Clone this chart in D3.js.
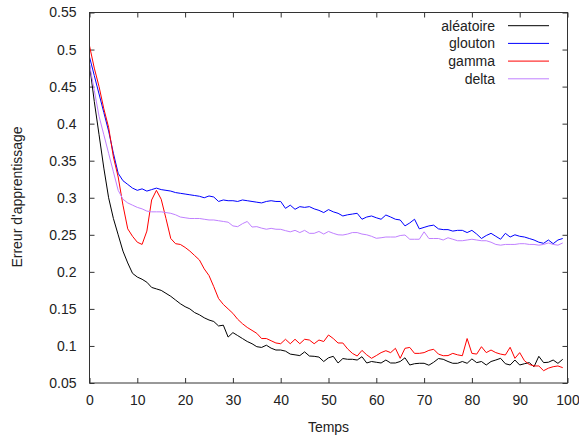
<!DOCTYPE html>
<html><head><meta charset="utf-8">
<script src="https://cdn.jsdelivr.net/npm/d3@7"></script>
<style>body{margin:0;background:#fff;} svg{display:block;font-family:"Liberation Sans",Arial,sans-serif;}</style>
</head><body><svg id="c" width="579" height="440"></svg>
<script>
const steps = d3.range(0, 100);
const seriesNames = ["aléatoire", "glouton", "gamma", "delta"];
const seriesColors = ["#000000", "#0000ff", "#ff0000", "#c080ff"];
const xTicks = [0,10,20,30,40,50,60,70,80,90,100];
const yTicks = [0.05,0.1,0.15,0.2,0.25,0.3,0.35,0.4,0.45,0.5,0.55];

const aleatoire = [0.480,0.430,0.385,0.340,0.300,0.272,0.250,0.228,0.212,0.198,
0.193,0.190,0.186,0.179,0.177,0.175,0.171,0.167,0.162,0.157,
0.153,0.150,0.145,0.142,0.138,0.135,0.133,0.127,0.128,0.112,
0.118,0.114,0.110,0.106,0.103,0.099,0.098,0.101,0.097,0.0945,
0.0945,0.093,0.089,0.088,0.087,0.092,0.0864,0.086,0.085,0.079,
0.084,0.086,0.077,0.083,0.082,0.082,0.081,0.0855,0.077,0.079,
0.078,0.077,0.081,0.077,0.077,0.079,0.084,0.0743,0.076,0.0766,
0.0766,0.074,0.078,0.083,0.082,0.079,0.0766,0.0766,0.079,0.0766,
0.0825,0.0775,0.079,0.0743,0.079,0.081,0.0833,0.076,0.0743,0.081,
0.0743,0.076,0.0775,0.072,0.086,0.0775,0.078,0.081,0.0765,0.082];

const glouton = [0.490,0.465,0.440,0.415,0.390,0.360,0.333,0.323,0.318,0.313,
0.310,0.312,0.309,0.311,0.313,0.311,0.310,0.309,0.307,0.306,
0.305,0.304,0.303,0.302,0.300,0.3024,0.301,0.295,0.297,0.296,
0.296,0.295,0.297,0.296,0.295,0.294,0.293,0.295,0.296,0.295,
0.295,0.2857,0.290,0.2844,0.288,0.287,0.288,0.285,0.283,0.280,
0.284,0.281,0.279,0.2754,0.277,0.278,0.279,0.271,0.274,0.2754,
0.273,0.271,0.2767,0.274,0.271,0.270,0.262,0.266,0.271,0.258,
0.260,0.262,0.263,0.258,0.257,0.257,0.255,0.256,0.256,0.253,
0.256,0.251,0.245,0.249,0.252,0.248,0.244,0.252,0.247,0.250,
0.248,0.247,0.245,0.243,0.240,0.2385,0.243,0.238,0.243,0.245];

const gamma = [0.505,0.475,0.450,0.420,0.395,0.355,0.328,0.290,0.258,0.248,
0.240,0.237,0.255,0.297,0.310,0.298,0.272,0.245,0.238,0.237,
0.233,0.228,0.222,0.216,0.204,0.195,0.180,0.164,0.156,0.150,
0.144,0.136,0.130,0.125,0.121,0.117,0.110,0.110,0.107,0.104,
0.103,0.109,0.103,0.109,0.103,0.109,0.108,0.103,0.108,0.106,
0.1148,0.110,0.104,0.104,0.096,0.090,0.0864,0.094,0.088,0.0833,
0.087,0.091,0.0936,0.091,0.0968,0.0833,0.0968,0.098,0.090,0.090,
0.091,0.094,0.0955,0.089,0.0868,0.087,0.090,0.088,0.0868,0.110,
0.090,0.089,0.099,0.091,0.0945,0.091,0.089,0.0878,0.0982,0.0833,
0.091,0.080,0.075,0.073,0.073,0.0666,0.070,0.072,0.073,0.0707];

const delta = [0.480,0.445,0.410,0.385,0.360,0.335,0.310,0.298,0.293,0.290,
0.287,0.285,0.282,0.281,0.281,0.281,0.280,0.279,0.277,0.274,
0.273,0.272,0.272,0.272,0.271,0.270,0.270,0.269,0.268,0.267,
0.262,0.261,0.265,0.268,0.2605,0.261,0.259,0.2575,0.2587,0.2575,
0.2574,0.2556,0.254,0.256,0.253,0.256,0.252,0.252,0.2545,0.251,
0.2545,0.252,0.250,0.2497,0.251,0.253,0.253,0.251,0.250,0.248,
0.2453,0.246,0.247,0.247,0.247,0.249,0.2497,0.244,0.244,0.244,
0.254,0.245,0.245,0.245,0.243,0.246,0.244,0.242,0.242,0.243,
0.244,0.243,0.242,0.242,0.240,0.237,0.236,0.237,0.237,0.237,
0.238,0.238,0.237,0.237,0.236,0.237,0.239,0.237,0.236,0.239];

const seriesData = [aleatoire, glouton, gamma, delta];

const svg = d3.select("#c");
const L = 89.5, R = 567.5, T = 12.5, B = 383;
const x = d3.scaleLinear().domain([0,100]).range([L,R]);
const y = d3.scaleLinear().domain([0.05,0.55]).range([B,T]);
const fs = 14, tk = 5, axisColor = "#333", textColor = "#222";

function styleAxis(g){
  g.select(".domain").remove();
  g.selectAll(".tick line").attr("stroke", axisColor);
  g.selectAll(".tick text").attr("fill", textColor).attr("font-size", fs).attr("font-family", '"Liberation Sans",Arial,sans-serif');
}
svg.append("g").attr("transform",`translate(0,${B})`)
  .call(d3.axisBottom(x).tickValues(xTicks).tickFormat(d3.format("d")).tickSize(-tk).tickPadding(12)).call(styleAxis);
svg.append("g").attr("transform",`translate(0,${T})`)
  .call(d3.axisTop(x).tickValues(xTicks).tickFormat("").tickSize(-tk)).call(styleAxis);
svg.append("g").attr("transform",`translate(${L},0)`)
  .call(d3.axisLeft(y).tickValues(yTicks).tickFormat(d => String(+d.toFixed(2))).tickSize(-tk).tickPadding(13)).call(styleAxis);
svg.append("g").attr("transform",`translate(${R},0)`)
  .call(d3.axisRight(y).tickValues(yTicks).tickFormat("").tickSize(-tk)).call(styleAxis);

const line = d3.line().x((d,i)=>x(steps[i])).y(d=>y(d));
seriesData.forEach((s,k)=>{
  svg.append("path").datum(s).attr("d", line).attr("fill","none")
    .attr("stroke", seriesColors[k]).attr("stroke-width",1);
});

svg.append("rect").attr("x",L).attr("y",T).attr("width",R-L).attr("height",B-T)
  .attr("fill","none").attr("stroke",axisColor).attr("stroke-width",1);

// legend
const lg = svg.append("g");
seriesNames.forEach((n,k)=>{
  const yy = 25.7 + k*17.7;
  lg.append("text").attr("x",495).attr("y",yy).attr("dy","0.35em").attr("text-anchor","end")
    .attr("font-size",fs).attr("fill",textColor).text(n);
  lg.append("line").attr("x1",508).attr("x2",549).attr("y1",yy).attr("y2",yy)
    .attr("stroke",seriesColors[k]).attr("stroke-width",1);
});

svg.append("text").attr("x",(L+R)/2).attr("y",427).attr("dy","0.35em").attr("text-anchor","middle")
  .attr("font-size",fs).attr("fill",textColor).text("Temps");
svg.append("text").attr("transform","translate(17,197) rotate(-90)").attr("dy","0.35em").attr("text-anchor","middle")
  .attr("font-size",fs).attr("fill",textColor).text("Erreur d'apprentissage");
</script></body></html>
